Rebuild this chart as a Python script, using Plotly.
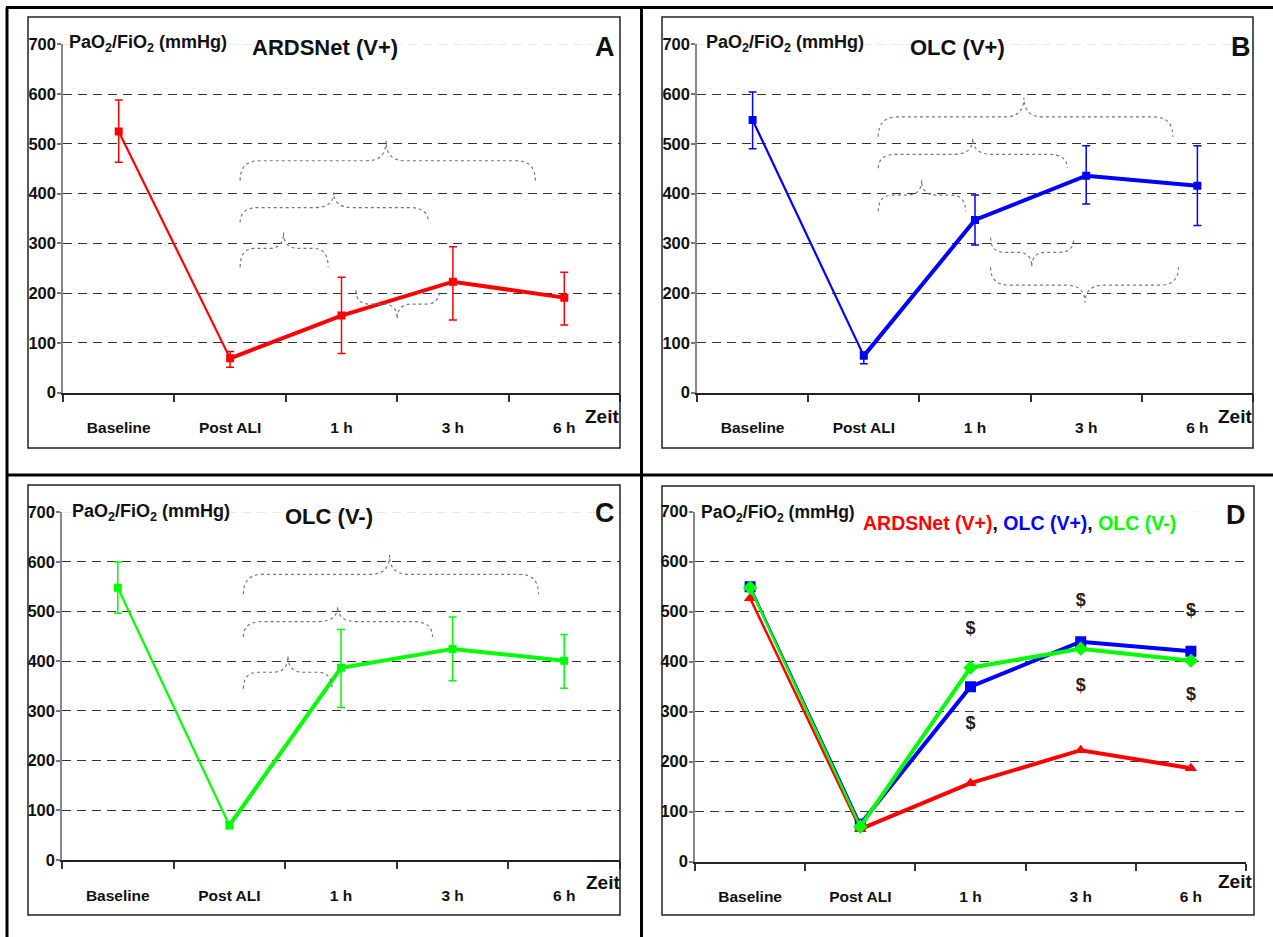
import plotly.graph_objects as go

W, H = 1273, 937

# ---------------- data ----------------
categories = ["Baseline", "Post ALI", "1 h", "3 h", "6 h"]
y_ticks = [0, 100, 200, 300, 400, 500, 600, 700]

ards_mean = [525, 69, 155, 223, 191]
ards_upper = [588, 83, 232, 293, 242]
ards_lower = [463, 51, 79, 146, 136]

olc_vp_mean = [548, 74, 347, 436, 416]
olc_vp_upper = [604, 82, 397, 496, 496]
olc_vp_lower = [490, 58, 297, 379, 336]

olc_vm_mean = [548, 70, 387, 425, 401]
olc_vm_upper = [600, 77, 464, 489, 454]
olc_vm_lower = [497, 63, 307, 361, 346]

# panel D (means only)
d_ards = [527, 65, 157, 223, 187]
d_olc_vp = [550, 75, 350, 440, 421]
d_olc_vm = [548, 70, 388, 426, 402]

dollar_cat = ["1 h", "1 h", "3 h", "3 h", "6 h", "6 h"]
dollar_val = [465, 274, 521, 350, 501, 332]

# significance braces: (start, end, tip) in category units, (end, middle, tip) in mmHg
braces_A = [(1.09, 3.74, 2.40, 426, 466, 506),
            (1.09, 2.78, 1.93, 342, 372, 402),
            (1.09, 1.88, 1.48, 252, 290, 322),
            (2.13, 2.88, 2.50, 206, 178, 148)]
braces_B = [(1.13, 3.78, 2.44, 514, 554, 593),
            (1.13, 2.83, 1.98, 451, 479, 511),
            (1.13, 1.915, 1.52, 364, 397, 427),
            (2.14, 2.89, 2.51, 312, 282, 253),
            (2.14, 3.83, 2.99, 252, 216, 181)]
braces_C = [(1.125, 3.77, 2.435, 535, 575, 614),
            (1.125, 2.82, 1.97, 449, 480, 511),
            (1.125, 1.92, 1.525, 345, 378, 411)]

RED, BLUE, GREEN = "#ff0000", "#0000ff", "#00ff00"
FONT = "Liberation Sans, Arial, sans-serif"

def px(x):
    return x / W

def py(y):
    return 1 - y / H

panels = [
    dict(xd=(63, 620), yd=(44.3, 392.7), frame=(28, 17, 620, 448)),
    dict(xd=(697, 1253), yd=(44.3, 392.7), frame=(662, 17, 1253, 448)),
    dict(xd=(62, 620), yd=(512.3, 860), frame=(28, 485, 620, 915)),
    dict(xd=(695, 1246), yd=(511.7, 861.7), frame=(662, 486, 1254, 915)),
]

xs = list(range(len(categories)))
fig = go.Figure()
layout = dict(width=W, height=H, margin=dict(l=0, r=0, t=0, b=0, autoexpand=False),
              paper_bgcolor="white", plot_bgcolor="white", showlegend=False)
shapes = []
annotations = []

for i, p in enumerate(panels):
    sfx = "" if i == 0 else str(i + 1)
    layout["xaxis" + sfx] = dict(
        domain=[px(p["xd"][0]), px(p["xd"][1])], anchor="y" + sfx, automargin=False,
        range=[-0.5, len(categories) - 0.5], tickmode="array", tickvals=xs,
        ticktext=categories, ticks="", showgrid=False, zeroline=False,
        showline=True, linecolor="#222", linewidth=2,
        tickfont=dict(family=FONT, size=15.5, color="#111", weight="bold"),
        ticklabelstandoff=20,
        minor=dict(tickmode="array", tickvals=[v - 0.5 for v in xs] + [xs[-1] + 0.5],
                   ticks="outside", ticklen=7, tickcolor="#333", tickwidth=1.5, showgrid=False),
    )
    layout["yaxis" + sfx] = dict(
        domain=[py(p["yd"][1]), py(p["yd"][0])], anchor="x" + sfx, automargin=False,
        range=[y_ticks[0], y_ticks[-1]], tickmode="array", tickvals=y_ticks,
        ticktext=[str(v) for v in y_ticks], ticks="outside", ticklen=4,
        tickcolor="#777", tickwidth=1.5, showgrid=False, zeroline=False,
        showline=True, linecolor="#888", linewidth=1.5,
        tickfont=dict(family=FONT, size=16.5, color="#111", weight="bold"),
        ticklabelstandoff=-2,
        minor=dict(tickmode="array", tickvals=y_ticks[1:-1], ticks="", showgrid=True,
                   gridcolor="#333", griddash="9px,6px", gridwidth=1.3),
    )
    # top (max tick) faint grid line
    shapes.append(dict(type="line", xref="x" + sfx, yref="y" + sfx,
                       x0=-0.5, x1=len(categories) - 0.5, y0=y_ticks[-1], y1=y_ticks[-1],
                       line=dict(color="#dddddd", width=1, dash="9px,6px"), layer="below"))
    fx0, fy0, fx1, fy1 = p["frame"]
    shapes.append(dict(type="rect", xref="paper", yref="paper",
                       x0=px(fx0), x1=px(fx1), y0=py(fy1), y1=py(fy0),
                       line=dict(color="#222", width=1.5)))


def add_series(axis_i, mean, upper, lower, color):
    sfx = "" if axis_i == 0 else str(axis_i + 1)
    fig.add_trace(go.Scatter(x=xs[:2], y=mean[:2], mode="lines",
                             line=dict(color=color, width=2.2),
                             xaxis="x" + sfx, yaxis="y" + sfx))
    fig.add_trace(go.Scatter(x=xs[1:], y=mean[1:], mode="lines",
                             line=dict(color=color, width=4),
                             xaxis="x" + sfx, yaxis="y" + sfx))
    fig.add_trace(go.Scatter(
        x=xs, y=mean, mode="markers",
        marker=dict(symbol="square", size=8, color=color),
        error_y=dict(type="data", symmetric=False,
                     array=[u - m for u, m in zip(upper, mean)],
                     arrayminus=[m - l for m, l in zip(mean, lower)],
                     color=color, thickness=1.5, width=4),
        xaxis="x" + sfx, yaxis="y" + sfx))


add_series(0, ards_mean, ards_upper, ards_lower, RED)
add_series(1, olc_vp_mean, olc_vp_upper, olc_vp_lower, BLUE)
add_series(2, olc_vm_mean, olc_vm_upper, olc_vm_lower, GREEN)

for vals, color, sym in [(d_ards, RED, "triangle-up"), (d_olc_vp, BLUE, "square"),
                         (d_olc_vm, GREEN, "diamond")]:
    fig.add_trace(go.Scatter(x=xs[:2], y=vals[:2], mode="lines",
                             line=dict(color=color, width=2.5), xaxis="x4", yaxis="y4"))
    fig.add_trace(go.Scatter(x=xs[1:], y=vals[1:], mode="lines",
                             line=dict(color=color, width=4), xaxis="x4", yaxis="y4"))
    fig.add_trace(go.Scatter(x=xs, y=vals, mode="markers",
                             marker=dict(symbol=sym, size=11, color=color),
                             xaxis="x4", yaxis="y4"))

fig.add_trace(go.Scatter(x=[categories.index(c) for c in dollar_cat], y=dollar_val,
                         mode="text", text=["$"] * len(dollar_val),
                         textfont=dict(family=FONT, size=18, color="#222", weight="bold"),
                         xaxis="x4", yaxis="y4"))


def brace_path(b):
    x0, x1, xt, ye, ym, yt = b
    d0 = min(0.17, (xt - x0) / 3)
    d1 = min(0.17, (x1 - xt) / 3)
    return (f"M {x0},{ye} Q {x0},{ym} {x0 + d0},{ym} L {xt - d0},{ym} "
            f"Q {xt},{ym} {xt},{yt} Q {xt},{ym} {xt + d1},{ym} "
            f"L {x1 - d1},{ym} Q {x1},{ym} {x1},{ye}")


for sfx, blist in [("", braces_A), ("2", braces_B), ("3", braces_C)]:
    for b in blist:
        shapes.append(dict(type="path", xref="x" + sfx, yref="y" + sfx,
                           path=brace_path(b),
                           line=dict(color="#777", width=1.2, dash="dot")))

# outer black separators
for x0, y0, x1, y1 in [(6, 7.5, W, 7.5), (7, 7.5, 7, H), (641.5, 7.5, 641.5, H),
                       (6, 475, W, 475)]:
    shapes.append(dict(type="line", xref="paper", yref="paper",
                       x0=px(x0), x1=px(x1), y0=py(y0), y1=py(y1),
                       line=dict(color="black", width=3)))


def text(x, y, s, size, xanchor="center", color="#111"):
    annotations.append(dict(xref="paper", yref="paper", x=px(x), y=py(y), text=s,
                            showarrow=False, xanchor=xanchor, yanchor="middle",
                            font=dict(family=FONT, size=size, color=color, weight="bold")))


ylab = "PaO<sub>2</sub>/FiO<sub>2</sub> (mmHg)"
text(67, 43, ylab, 18, "left")
text(704, 43, ylab, 18, "left")
text(70, 512, ylab, 18, "left")
text(699, 513, ylab, 17.5, "left")

text(325, 48, "ARDSNet (V+)", 22)
text(957, 48, "OLC (V+)", 22)
text(329, 516, "OLC (V-)", 22)
text(1019, 523, f'<span style="color:{RED}">ARDSNet (V+)</span>, '
                f'<span style="color:{BLUE}">OLC (V+)</span>, '
                f'<span style="color:{GREEN}">OLC (V-)</span>', 19.5)

text(605, 47, "A", 27)
text(1241, 47, "B", 27)
text(605, 513, "C", 27)
text(1236, 515, "D", 27)

text(602, 417, "Zeit", 19)
text(1235, 417, "Zeit", 19)
text(603, 882, "Zeit", 19)
text(1235, 881, "Zeit", 19)

layout["shapes"] = shapes
layout["annotations"] = annotations
fig.update_layout(**layout)
fig.write_html("out.html")
